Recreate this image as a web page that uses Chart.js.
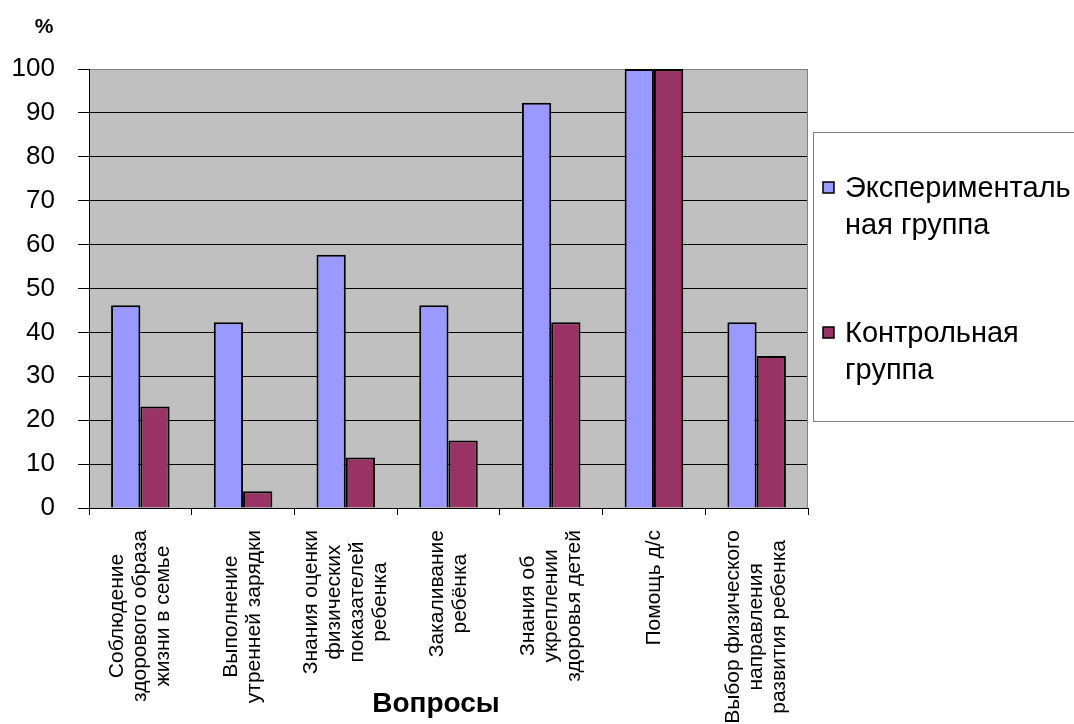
<!DOCTYPE html>
<html lang="ru">
<head>
<meta charset="utf-8">
<title>Вопросы</title>
<script src="https://cdn.jsdelivr.net/npm/chart.js@4.4.1/dist/chart.umd.min.js"></script>
<style>
  html, body { margin: 0; padding: 0; background: #fff; overflow: hidden; }
</style>
</head>
<body>
<canvas id="chart" width="1074" height="724"></canvas>
<script>
// вопросы анкеты, по строкам подписи
const questions = [
    ['Соблюдение', 'здорового образа', 'жизни в семье'],
    ['Выполнение', 'утренней зарядки'],
    ['Знания оценки', 'физических', 'показателей', 'ребенка'],
    ['Закаливание', 'ребёнка'],
    ['Знания об', 'укреплении', 'здоровья детей'],
    ['Помощь д/с'],
    ['Выбор физического', 'направления', 'развития ребенка']
];
const expGroup = [46.2, 42.3, 57.7, 46.2, 92.3, 100, 42.3];
const ctrlGroup = [23.1, 3.8, 11.5, 15.4, 42.3, 100, 34.6];
const seriesNames = ['Экспериментальная группа', 'Контрольная группа'];
const legendLines = [['Эксперименталь', 'ная группа'], ['Контрольная', 'группа']];
const yTicks = [0, 10, 20, 30, 40, 50, 60, 70, 80, 90, 100];
const xTitle = 'Вопросы';

const FONT = '"Liberation Sans", Arial, sans-serif';
const colors = ['#9999ff', '#993366'];

const decor = {
    id: 'decor',
    beforeDraw(chart) {
        const {ctx, chartArea: a} = chart;
        ctx.save();
        ctx.fillStyle = '#c0c0c0';
        ctx.fillRect(a.left, a.top, a.right - a.left, a.bottom - a.top);
        ctx.restore();
    },
    beforeDatasetsDraw(chart) {
        const {ctx, chartArea: a} = chart;
        ctx.save();
        ctx.strokeStyle = '#808080';
        ctx.lineWidth = 1;
        ctx.beginPath();
        ctx.moveTo(a.right - 0.5, a.top);
        ctx.lineTo(a.right - 0.5, a.bottom);
        ctx.stroke();
        ctx.restore();
    },
    afterDraw(chart) {
        const {ctx} = chart;
        const xs = chart.scales.x;
        ctx.save();
        ctx.fillStyle = '#000';

        // подписи категорий, повернутые, строки по центру блока
        ctx.font = '21px ' + FONT;
        questions.forEach((lines, i) => {
            const cx = xs.getPixelForValue(i);
            const w = Math.max(...lines.map(l => ctx.measureText(l).width));
            const top = xs.top + 22;
            lines.forEach((line, j) => {
                ctx.save();
                ctx.translate(cx + (j - (lines.length - 1) / 2) * 23, top + w / 2);
                ctx.rotate(-Math.PI / 2);
                ctx.textAlign = 'center';
                ctx.textBaseline = 'middle';
                ctx.fillText(line, 0, 0);
                ctx.restore();
            });
        });

        // заголовок оси X
        ctx.font = 'bold 28px ' + FONT;
        ctx.textAlign = 'center';
        ctx.textBaseline = 'middle';
        ctx.fillText(xTitle, 436, 704);

        // знак процента над осью
        ctx.font = 'bold 21px ' + FONT;
        ctx.fillText('%', 44, 27);

        // легенда
        const box = {x: 813.5, y: 132.5, w: 280, h: 289};
        ctx.fillStyle = '#fff';
        ctx.fillRect(box.x, box.y, box.w, box.h);
        ctx.strokeStyle = '#808080';
        ctx.lineWidth = 1;
        ctx.strokeRect(box.x, box.y, box.w, box.h);

        const rows = [189, 334];
        ctx.font = '29px ' + FONT;
        ctx.textAlign = 'left';
        legendLines.forEach((lines, k) => {
            const y = rows[k];
            ctx.fillStyle = colors[k];
            ctx.fillRect(823, y - 7, 11, 11);
            ctx.strokeStyle = '#000';
            ctx.lineWidth = 1.5;
            ctx.strokeRect(823, y - 7, 11, 11);
            ctx.fillStyle = '#000';
            lines.forEach((line, j) => {
                ctx.fillText(line, 845, y + j * 37);
            });
        });
        ctx.restore();
    }
};

new Chart(document.getElementById('chart'), {
    type: 'bar',
    data: {
        labels: questions.map(q => q.join(' ')),
        datasets: [
            {
                label: seriesNames[0],
                data: expGroup,
                backgroundColor: colors[0],
                borderColor: '#000',
                borderWidth: 2
            },
            {
                label: seriesNames[1],
                data: ctrlGroup,
                backgroundColor: colors[1],
                borderColor: '#000',
                borderWidth: 2
            }
        ]
    },
    options: {
        responsive: false,
        animation: false,
        devicePixelRatio: 1,
        categoryPercentage: 0.57,
        barPercentage: 1,
        layout: { padding: { top: 69, right: 266, left: 0, bottom: 0 } },
        plugins: {
            legend: { display: false },
            tooltip: { enabled: false }
        },
        scales: {
            x: {
                grid: {
                    drawOnChartArea: false,
                    drawTicks: true,
                    tickLength: 7,
                    tickColor: '#000'
                },
                border: { display: true, color: '#000', width: 1 },
                ticks: { display: false },
                afterFit(scale) { scale.height = 216; }
            },
            y: {
                min: 0,
                max: 100,
                afterBuildTicks(scale) {
                    scale.ticks = yTicks.map(v => ({ value: v }));
                },
                grid: {
                    color: c => (c.tick && c.tick.value === 100) ? '#808080' : '#000',
                    tickColor: '#000',
                    tickLength: 11,
                    lineWidth: 1
                },
                border: { display: true, color: '#000', width: 1 },
                ticks: {
                    color: '#000',
                    padding: 23,
                    font: { family: FONT, size: 26 }
                },
                afterFit(scale) { scale.width = 89; }
            }
        }
    },
    plugins: [decor]
});
</script>
</body>
</html>
